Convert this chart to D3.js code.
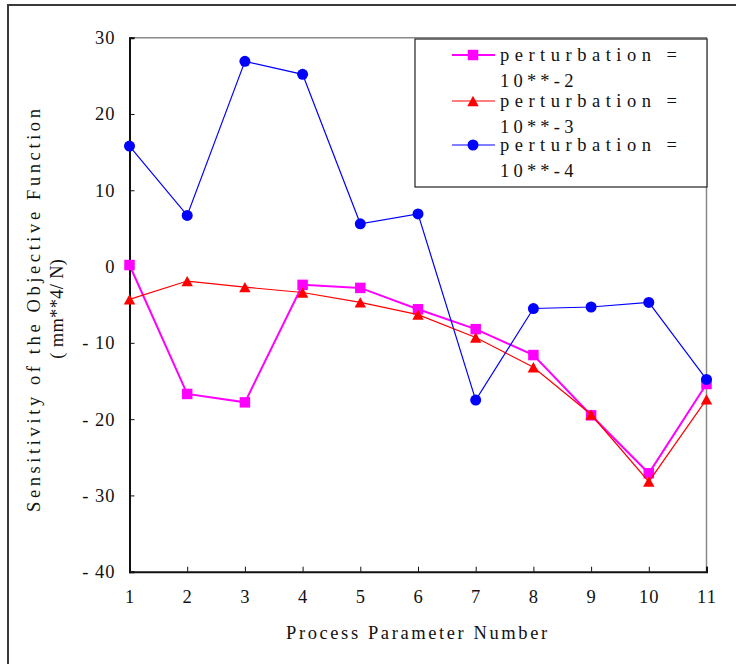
<!DOCTYPE html>
<html>
<head>
<meta charset="utf-8">
<script src="https://cdn.jsdelivr.net/npm/d3@7"></script>
<style>
  html, body { margin: 0; padding: 0; background: #fff; }
  svg { display: block; }
  svg text { font-family: "Liberation Serif", Tinos, "Times New Roman", Times, serif; }
</style>
</head>
<body>
<svg id="chart" width="736" height="664"></svg>
<script>
// Process parameter numbers on the x axis
const parameters = [1, 2, 3, 4, 5, 6, 7, 8, 9, 10, 11];
// Sensitivity values (mm**4/N) for each perturbation size
const pert2 = [0.2, -16.7, -17.8, -2.4, -2.8, -5.6, -8.2, -11.6, -19.5, -27.1, -15.4];
const pert3 = [-4.3, -1.9, -2.7, -3.4, -4.7, -6.3, -9.3, -13.2, -19.4, -28.2, -17.4];
const pert4 = [15.8, 6.7, 26.9, 25.2, 5.6, 6.9, -17.5, -5.5, -5.3, -4.7, -14.8];
const seriesLabels = ["10**-2", "10**-3", "10**-4"];
const yTicks = [30, 20, 10, 0, -10, -20, -30, -40];

const W = 736, H = 664;
const plot = { left: 129.5, right: 706.5, top: 37.7, bottom: 571.7 };
const FONT = 18.5;
const SERIF = '"Liberation Serif", Tinos, "Times New Roman", Times, serif';

const svg = d3.select("#chart");

// triangle centred on its bounding box, apex up
const triangleBox = {
  draw(ctx, size) {
    const s = Math.sqrt(size);
    const h = s * 0.9;
    ctx.moveTo(0, -h / 2);
    ctx.lineTo(s / 2, h / 2);
    ctx.lineTo(-s / 2, h / 2);
    ctx.closePath();
  }
};

const series = [
  { label: seriesLabels[0], values: pert2, color: "#ff00ff", width: 2, symbol: d3.symbolSquare, size: 110 },
  { label: seriesLabels[1], values: pert3, color: "#ff0000", width: 1.2, symbol: triangleBox, size: 130 },
  { label: seriesLabels[2], values: pert4, color: "#0000ff", width: 1.2, symbol: d3.symbolCircle, size: 95 }
];

const x = d3.scaleLinear().domain([1, 11]).range([plot.left, plot.right]);
const y = d3.scaleLinear().domain([-40, 30]).range([plot.bottom, plot.top]);

// outer frame (top and left edges)
svg.append("path")
  .attr("d", `M8,${H} L8,5 L${W},5`)
  .attr("fill", "none")
  .attr("stroke", "#3a3a3a")
  .attr("stroke-width", 2);

// plot frame: top and right edges in grey
svg.append("path")
  .attr("d", `M${plot.left},${plot.top} L${plot.right},${plot.top} L${plot.right},${plot.bottom}`)
  .attr("fill", "none")
  .attr("stroke", "#8a8a8a")
  .attr("stroke-width", 1.5);

// axes with inward ticks
const fmtY = d => d < 0 ? "- " + Math.abs(d) : String(d);

const yAxis = svg.append("g")
  .attr("transform", `translate(${plot.left},0)`)
  .call(d3.axisLeft(y).tickValues(yTicks).tickFormat(fmtY).tickSize(-5).tickPadding(14));

const xAxis = svg.append("g")
  .attr("transform", `translate(0,${plot.bottom})`)
  .call(d3.axisBottom(x).tickValues(parameters).tickFormat(d3.format("d")).tickSize(-5).tickPadding(18.5));

[yAxis, xAxis].forEach(g => {
  g.attr("font-family", SERIF).attr("font-size", FONT);
  g.select(".domain").attr("stroke", "#111").attr("stroke-width", 2);
  g.selectAll(".tick line").attr("stroke", "#111").attr("stroke-width", 1);
  g.selectAll(".tick text")
    .attr("fill", "#111")
    .style("letter-spacing", "1px");
});

// axis titles
svg.append("text")
  .attr("x", 286)
  .attr("y", 638.5)
  .attr("fill", "#111")
  .style("font-size", FONT + "px")
  .style("letter-spacing", "2.6px")
  .text("Process Parameter Number");

const yTitle = svg.append("g")
  .attr("transform", `translate(0,${(plot.top + plot.bottom) / 2 + 4}) rotate(-90)`)
  .attr("fill", "#111")
  .style("font-size", FONT + "px")
  .attr("text-anchor", "middle");
yTitle.append("text")
  .attr("x", 0).attr("y", 40)
  .style("letter-spacing", "3.6px")
  .text("Sensitivity of the Objective Function");
yTitle.append("text")
  .attr("x", 0).attr("y", 63)
  .style("letter-spacing", "0.3px")
  .text("( mm**4/ N)");

// series lines and markers
const line = d3.line().x((d, i) => x(parameters[i])).y(d => y(d));

series.forEach(s => {
  const g = svg.append("g");
  g.append("path")
    .attr("d", line(s.values))
    .attr("fill", "none")
    .attr("stroke", s.color)
    .attr("stroke-width", s.width)
    .attr("stroke-linejoin", "miter");
  g.selectAll("path.mark")
    .data(s.values)
    .join("path")
    .attr("class", "mark")
    .attr("transform", (d, i) => `translate(${x(parameters[i])},${y(d)})`)
    .attr("d", d3.symbol().type(s.symbol).size(s.size))
    .attr("fill", s.color);
});

// legend
const legend = svg.append("g");
legend.append("rect")
  .attr("x", 415).attr("y", 39)
  .attr("width", 292).attr("height", 148)
  .attr("fill", "#fff")
  .attr("stroke", "#222")
  .attr("stroke-width", 1.2);

const rowY = [55, 101, 145];
series.forEach((s, i) => {
  const gy = rowY[i];
  legend.append("line")
    .attr("x1", 452).attr("x2", 495)
    .attr("y1", gy).attr("y2", gy)
    .attr("stroke", s.color)
    .attr("stroke-width", s.width);
  legend.append("path")
    .attr("transform", `translate(473,${gy})`)
    .attr("d", d3.symbol().type(s.symbol).size(s.size))
    .attr("fill", s.color);
  legend.append("text")
    .attr("x", 500).attr("y", gy + 6)
    .attr("fill", "#111")
    .style("font-size", FONT + "px")
    .style("letter-spacing", "5.5px")
    .text("perturbation =");
  legend.append("text")
    .attr("x", 500).attr("y", gy + 32)
    .attr("fill", "#111")
    .style("font-size", FONT + "px")
    .style("letter-spacing", "4.2px")
    .text(s.label);
});
</script>
</body>
</html>
